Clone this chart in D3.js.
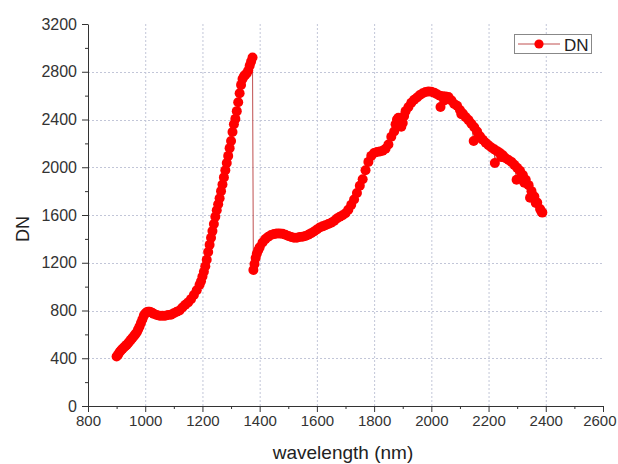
<!DOCTYPE html>
<html><head><meta charset="utf-8">
<script src="https://cdn.jsdelivr.net/npm/d3@7"></script>
<style>body{margin:0;background:#fff}svg{display:block}</style>
</head><body>
<svg id="c" width="618" height="464"></svg>
<script>
// ---- data ----
const wavelength = [
  900,905,910,915,920,925,930,935,940,945,
  950,955,960,965,970,975,980,985,990,995,
  1000,1005,1010,1015,1020,1025,1030,1040,1050,1060,
  1070,1080,1090,1100,1110,1120,1130,1140,1150,1160,
  1170,1180,1190,1195,1200,1205,1210,1215,1220,1225,
  1230,1235,1240,1245,1250,1255,1260,1265,1270,1275,
  1280,1285,1290,1295,1300,1305,1310,1315,1320,1325,
  1330,1335,1340,1345,1350,1355,1360,1365,1370,1375,
  1378,1382,1386,1390,1395,1400,1410,1420,1430,1440,
  1450,1460,1470,1480,1490,1500,1510,1520,1530,1540,
  1550,1560,1570,1580,1590,1600,1610,1620,1630,1640,
  1650,1660,1670,1680,1690,1700,1710,1720,1730,1740,
  1750,1760,1770,1780,1790,1800,1810,1820,1830,1840,
  1850,1860,1870,1875,1880,1885,1890,1895,1900,1905,
  1910,1920,1930,1940,1950,1960,1970,1980,1990,2000,
  2010,2020,2030,2032,2040,2045,2050,2060,2070,2080,
  2090,2100,2105,2110,2120,2130,2140,2148,2150,2160,
  2165,2170,2180,2190,2200,2210,2220,2222,2230,2240,
  2245,2250,2260,2270,2280,2290,2298,2300,2310,2320,
  2325,2330,2340,2345,2350,2360,2365,2370,2380,2385,
  2388
];
const dn = [
  415,430,450,465,478,490,500,512,525,540,
  555,570,585,600,615,640,665,695,725,755,
  775,785,790,789,785,779,772,762,757,755,
  757,762,765,778,790,800,825,848,868,895,
  930,970,1015,1045,1085,1125,1170,1225,1290,1350,
  1410,1465,1525,1585,1640,1690,1740,1800,1855,1915,
  1975,2035,2095,2160,2220,2295,2360,2405,2470,2545,
  2620,2690,2740,2762,2775,2787,2810,2850,2885,2920,
  1140,1190,1240,1275,1305,1330,1370,1398,1418,1432,
  1440,1444,1445,1442,1435,1425,1415,1410,1410,1415,
  1418,1425,1435,1448,1462,1478,1495,1505,1515,1525,
  1535,1550,1570,1585,1598,1615,1645,1685,1730,1785,
  1845,1900,1975,2045,2095,2120,2128,2132,2138,2155,
  2190,2255,2300,2360,2400,2415,2390,2340,2370,2430,
  2470,2505,2540,2565,2585,2605,2620,2630,2635,2632,
  2625,2612,2600,2505,2595,2560,2592,2588,2560,2530,
  2515,2480,2445,2450,2420,2395,2365,2220,2335,2300,
  2250,2260,2230,2205,2185,2165,2150,2035,2135,2120,
  2085,2100,2075,2060,2045,2020,1895,1995,1970,1935,
  1870,1895,1850,1745,1800,1755,1700,1705,1650,1628,
  1620
];
const xTicks = [800,1000,1200,1400,1600,1800,2000,2200,2400,2600];
const xMinorTicks = [900,1100,1300,1500,1700,1900,2100,2300,2500];
const yTicks = [0,400,800,1200,1600,2000,2400,2800,3200];
const yMinorTicks = [200,600,1000,1400,1800,2200,2600,3000];
const xTitle = "wavelength (nm)";
const yTitle = "DN";
const seriesName = "DN";

// ---- drawing ----
const svg = d3.select("#c");
const font = "'Liberation Sans', Arial, sans-serif";
const L = 88, R = 603, T = 24, B = 406;
const x = d3.scaleLinear().domain([800, 2600]).range([L, R]);
const y = d3.scaleLinear().domain([0, 3200]).range([B, T]);

// grid
const grid = svg.append("g").attr("stroke", "#c2c6d8").attr("stroke-width", 1).attr("stroke-dasharray", "2,2");
xTicks.filter(v => v > 800 && v < 2600).forEach(v => {
  grid.append("line").attr("x1", x(v)+0.5).attr("x2", x(v)+0.5).attr("y1", T).attr("y2", B);
});
yTicks.filter(v => v > 0 && v < 3200).forEach(v => {
  grid.append("line").attr("y1", Math.round(y(v))+0.5).attr("y2", Math.round(y(v))+0.5).attr("x1", L).attr("x2", R);
});

// axes
function styleAxis(g, size) {
  g.select(".domain").attr("stroke", "#333");
  g.selectAll(".tick line").attr("stroke", "#333");
  g.selectAll(".tick text").attr("fill", "#333").style("font-family", font).style("font-size", size);
}
const xAxis = svg.append("g").attr("transform", `translate(0,${B})`)
  .call(d3.axisBottom(x).tickValues(xTicks).tickSize(6).tickSizeOuter(0).tickPadding(3).tickFormat(d3.format("d")));
styleAxis(xAxis, "15px");
xAxis.selectAll(".tick text").filter(d => d === 2600).attr("text-anchor", "end").attr("dx", "13");
const xMinor = svg.append("g").attr("transform", `translate(0,${B})`)
  .call(d3.axisBottom(x).tickValues(xMinorTicks).tickSize(3).tickSizeOuter(0).tickFormat(""));
xMinor.select(".domain").remove();
xMinor.selectAll("line").attr("stroke", "#333");

const yAxis = svg.append("g").attr("transform", `translate(${L},0)`)
  .call(d3.axisLeft(y).tickValues(yTicks).tickSize(6).tickSizeOuter(0).tickPadding(5).tickFormat(d3.format("d")));
styleAxis(yAxis, "16px");
const yMinor = svg.append("g").attr("transform", `translate(${L},0)`)
  .call(d3.axisLeft(y).tickValues(yMinorTicks).tickSize(3).tickSizeOuter(0).tickFormat(""));
yMinor.select(".domain").remove();
yMinor.selectAll("line").attr("stroke", "#333");

// titles
svg.append("text").attr("x", 343).attr("y", 459).attr("text-anchor", "middle")
  .style("font-family", font).style("font-size", "19px").attr("fill", "#222").text(xTitle);
svg.append("text").attr("transform", `translate(29,229) rotate(-90)`).attr("text-anchor", "middle")
  .style("font-family", font).style("font-size", "18px").attr("fill", "#222").text(yTitle);

// series
const pts = wavelength.map((w, i) => [w, dn[i]]);
svg.append("path").datum(pts)
  .attr("fill", "none").attr("stroke", "#c05050").attr("stroke-width", 1)
  .attr("d", d3.line().x(d => x(d[0])).y(d => y(d[1])));
svg.append("g").selectAll("circle").data(pts).join("circle")
  .attr("cx", d => x(d[0])).attr("cy", d => y(d[1])).attr("r", 5)
  .attr("fill", "#ff0000");

// legend
const lg = svg.append("g");
lg.append("rect").attr("x", 514.5).attr("y", 34.5).attr("width", 77).attr("height", 19)
  .attr("fill", "#fff").attr("stroke", "#888");
lg.append("line").attr("x1", 518).attr("x2", 560).attr("y1", 44).attr("y2", 44)
  .attr("stroke", "#c05050").attr("stroke-width", 1);
lg.append("circle").attr("cx", 539).attr("cy", 44).attr("r", 4.6).attr("fill", "#ff0000");
lg.append("text").attr("x", 564).attr("y", 50.5).style("font-family", font).style("font-size", "17px")
  .attr("fill", "#222").text(seriesName);
</script>
</body></html>
